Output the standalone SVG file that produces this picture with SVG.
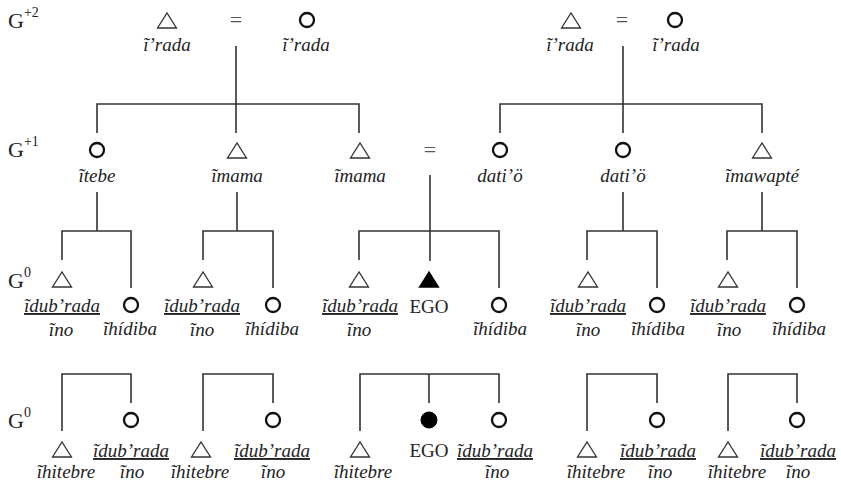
<svg xmlns="http://www.w3.org/2000/svg" width="841" height="485" viewBox="0 0 841 485">
<style>
text{font-family:"Liberation Serif","Times New Roman",serif;font-size:19px;fill:#222;text-anchor:middle}
.i{font-style:italic}
.u{text-decoration:underline}
.g{text-anchor:start;font-size:22px}
.sup{font-size:14px}
.eq{font-size:22px;fill:#555}
.tri{fill:#fff;stroke:#333;stroke-width:1.3;stroke-linejoin:miter}
.triF{fill:#000;stroke:#000;stroke-width:1.3}
.cir{fill:#fff;stroke:#111;stroke-width:2.3}
.cirF{fill:#000;stroke:#000;stroke-width:1}
#connectors path{fill:none;stroke:#333;stroke-width:1.6}
</style>
<defs>
<polygon id="t" class="tri" points="-9.5,15 0,0 9.5,15"/>
<polygon id="tf" class="triF" points="-9.5,15 0,0 9.5,15"/>
<circle id="c" class="cir" r="7"/>
</defs>
<rect width="841" height="485" fill="#fff"/>

<g id="generation-labels">
<text class="g" x="8" y="28">G<tspan class="sup" dy="-11">+2</tspan></text>
<text class="g" x="8" y="157">G<tspan class="sup" dy="-11">+1</tspan></text>
<text class="g" x="8" y="288">G<tspan class="sup" dy="-11">0</tspan></text>
<text class="g" x="8" y="428">G<tspan class="sup" dy="-11">0</tspan></text>
</g>

<g id="connectors">
<path d="M236,46V133M97,133V104H359V133"/>
<path d="M623,46V133M500,133V104H762V133"/>
<path d="M97,192V231M62,260V231H131V288"/>
<path d="M237,192V231M203,260V231H273V288"/>
<path d="M430,175V261M359,260V231H499V288"/>
<path d="M623,192V231M587,260V231H657V288"/>
<path d="M762,192V231M727,260V231H797V288"/>
<path d="M62,431V374H131V403"/>
<path d="M203,431V374H273V403"/>
<path d="M360,431V374H499V403M429,374V403"/>
<path d="M587,431V374H657V403"/>
<path d="M728,431V374H797V403"/>
</g>

<g id="g2-left">
<use href="#t" x="167" y="13"/>
<text class="eq" x="236" y="27">=</text>
<use href="#c" x="307" y="20"/>
<text class="i" x="167" y="51">ĩ’rada</text>
<text class="i" x="306" y="51">ĩ’rada</text>
</g>
<g id="g2-right">
<use href="#t" x="571" y="13"/>
<text class="eq" x="622" y="27">=</text>
<use href="#c" x="675" y="20"/>
<text class="i" x="570" y="51">ĩ’rada</text>
<text class="i" x="676" y="51">ĩ’rada</text>
</g>

<g id="g1-itebe"><use href="#c" x="97" y="150"/><text class="i" x="97" y="182">ĩtebe</text></g>
<g id="g1-imama1"><use href="#t" x="237" y="143"/><text class="i" x="237" y="182">ĩmama</text></g>
<g id="g1-imama2"><use href="#t" x="360" y="143"/><text class="i" x="360" y="182">ĩmama</text></g>
<g id="g1-marriage"><text class="eq" x="430" y="157">=</text></g>
<g id="g1-datio1"><use href="#c" x="500" y="150"/><text class="i" x="500" y="182">dati’ö</text></g>
<g id="g1-datio2"><use href="#c" x="623" y="150"/><text class="i" x="623" y="182">dati’ö</text></g>
<g id="g1-imawapte"><use href="#t" x="762" y="143"/><text class="i" x="762" y="182">ĩmawapté</text></g>

<g id="g0a-1">
<use href="#t" x="62" y="272"/><text class="i u" x="62" y="312">ĩdub’rada</text><text class="i" x="61" y="336">ĩno</text>
<use href="#c" x="131" y="305"/><text class="i" x="130" y="335">ĩhídiba</text>
</g>
<g id="g0a-2">
<use href="#t" x="203" y="272"/><text class="i u" x="202" y="312">ĩdub’rada</text><text class="i" x="202" y="336">ĩno</text>
<use href="#c" x="273" y="305"/><text class="i" x="272" y="335">ĩhídiba</text>
</g>
<g id="g0a-3">
<use href="#t" x="359" y="272"/><text class="i u" x="360" y="312">ĩdub’rada</text><text class="i" x="359" y="336">ĩno</text>
</g>
<g id="g0a-ego">
<use href="#tf" x="429" y="272"/><text x="429" y="313">EGO</text>
</g>
<g id="g0a-4">
<use href="#c" x="499" y="305"/><text class="i" x="500" y="335">ĩhídiba</text>
</g>
<g id="g0a-5">
<use href="#t" x="588" y="272"/><text class="i u" x="588" y="312">ĩdub’rada</text><text class="i" x="588" y="336">ĩno</text>
<use href="#c" x="657" y="305"/><text class="i" x="658" y="335">ĩhídiba</text>
</g>
<g id="g0a-6">
<use href="#t" x="728" y="272"/><text class="i u" x="728" y="312">ĩdub’rada</text><text class="i" x="729" y="336">ĩno</text>
<use href="#c" x="797" y="305"/><text class="i" x="799" y="335">ĩhídiba</text>
</g>

<g id="g0b-1">
<use href="#t" x="62" y="442"/><text class="i" x="66" y="478">ĩhitebre</text>
<use href="#c" x="131" y="420"/><text class="i u" x="131" y="457">ĩdub’rada</text><text class="i" x="132" y="478">ĩno</text>
</g>
<g id="g0b-2">
<use href="#t" x="201" y="442"/><text class="i" x="200" y="478">ĩhitebre</text>
<use href="#c" x="273" y="420"/><text class="i u" x="272" y="457">ĩdub’rada</text><text class="i" x="273" y="478">ĩno</text>
</g>
<g id="g0b-3">
<use href="#t" x="360" y="442"/><text class="i" x="363" y="478">ĩhitebre</text>
</g>
<g id="g0b-ego">
<circle class="cirF" cx="429" cy="420" r="8"/><text x="429" y="457">EGO</text>
</g>
<g id="g0b-4">
<use href="#c" x="499" y="420"/><text class="i u" x="495" y="457">ĩdub’rada</text><text class="i" x="497" y="478">ĩno</text>
</g>
<g id="g0b-5">
<use href="#t" x="587" y="442"/><text class="i" x="596" y="478">ĩhitebre</text>
<use href="#c" x="657" y="420"/><text class="i u" x="658" y="457">ĩdub’rada</text><text class="i" x="660" y="478">ĩno</text>
</g>
<g id="g0b-6">
<use href="#t" x="728" y="442"/><text class="i" x="737" y="478">ĩhitebre</text>
<use href="#c" x="797" y="420"/><text class="i u" x="798" y="457">ĩdub’rada</text><text class="i" x="798" y="478">ĩno</text>
</g>
</svg>
